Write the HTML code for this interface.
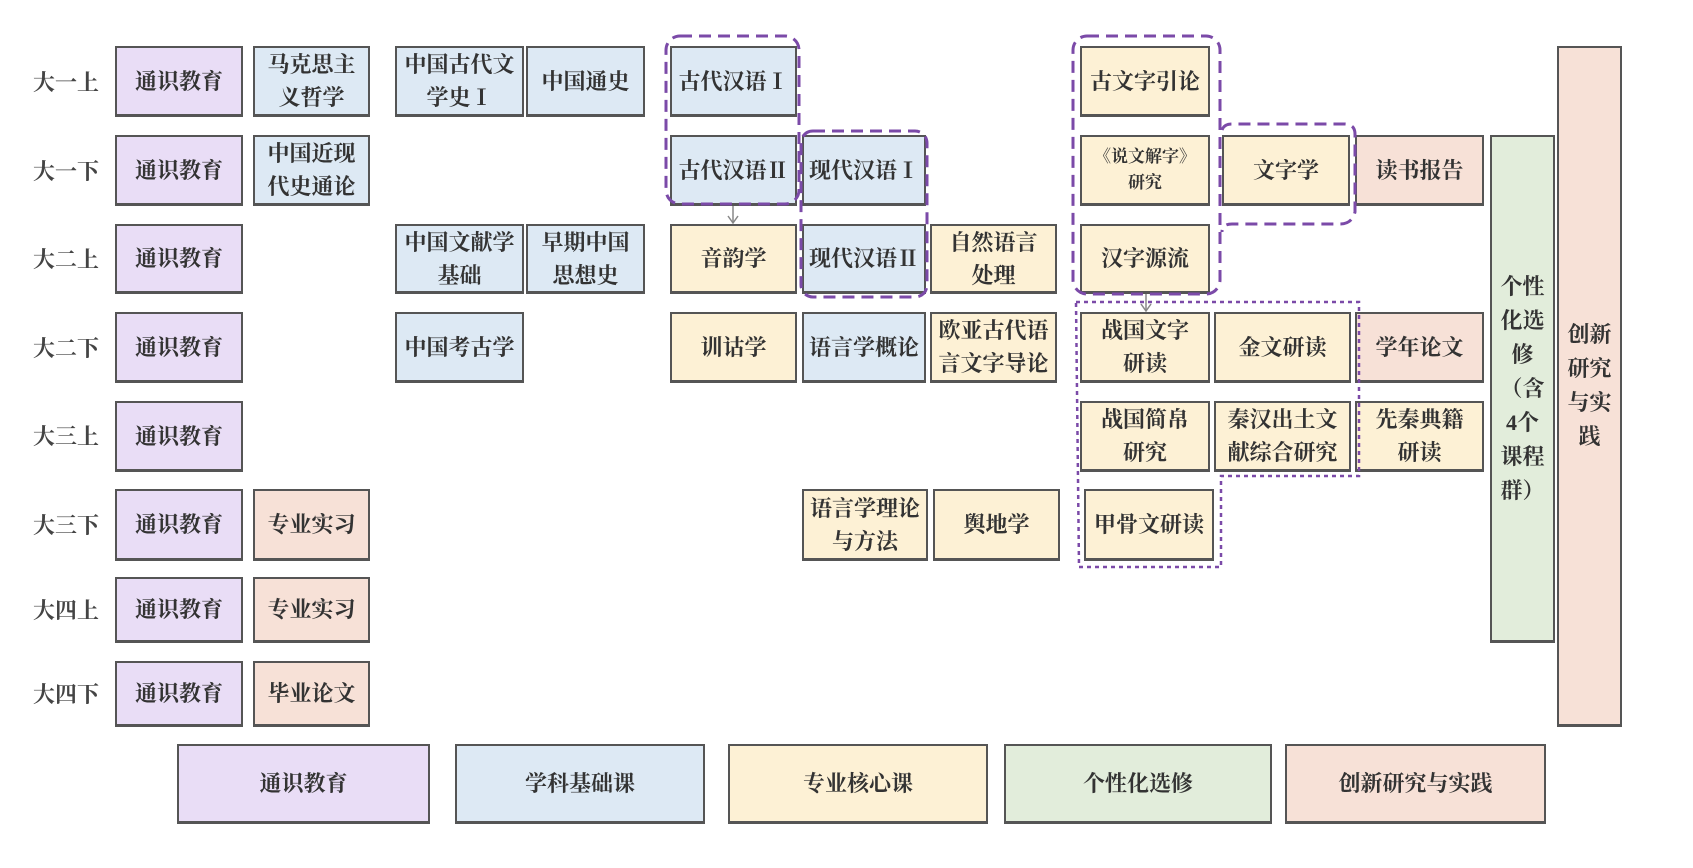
<!DOCTYPE html>
<html><head><meta charset="utf-8"><style>
body{margin:0;width:1693px;height:868px;background:#fff;position:relative;overflow:hidden;font-family:"Liberation Serif","Noto Serif CJK SC",serif;}
.b{position:absolute;box-sizing:border-box;border:2px solid #555;border-bottom-width:3px;display:flex;align-items:center;justify-content:center;text-align:center;font-size:22px;line-height:33px;color:#333;font-weight:bold;}
.p{background:#e9ddf6}.u{background:#dde9f4}.y{background:#fdf1d5}.g{background:#e2eddb}.k{background:#f7e1d7}
.l{position:absolute;left:28px;width:76px;font-size:22px;color:#444;text-align:center;font-weight:bold;}
svg{position:absolute;left:0;top:0}
</style></head><body>
<div class="l" style="top:66px">大一上</div>
<div class="l" style="top:155px">大一下</div>
<div class="l" style="top:243px">大二上</div>
<div class="l" style="top:332px">大二下</div>
<div class="l" style="top:420px">大三上</div>
<div class="l" style="top:509px">大三下</div>
<div class="l" style="top:594px">大四上</div>
<div class="l" style="top:678px">大四下</div>

<div class="b p" style="left:115px;top:46px;width:128px;height:71px">通识教育</div>
<div class="b p" style="left:115px;top:135px;width:128px;height:71px">通识教育</div>
<div class="b p" style="left:115px;top:224px;width:128px;height:70px">通识教育</div>
<div class="b p" style="left:115px;top:312px;width:128px;height:71px">通识教育</div>
<div class="b p" style="left:115px;top:401px;width:128px;height:71px">通识教育</div>
<div class="b p" style="left:115px;top:489px;width:128px;height:72px">通识教育</div>
<div class="b p" style="left:115px;top:577px;width:128px;height:66px">通识教育</div>
<div class="b p" style="left:115px;top:661px;width:128px;height:66px">通识教育</div>

<div class="b u" style="left:253px;top:46px;width:117px;height:71px">马克思主<br>义哲学</div>
<div class="b u" style="left:253px;top:135px;width:117px;height:71px">中国近现<br>代史通论</div>
<div class="b k" style="left:253px;top:489px;width:117px;height:72px">专业实习</div>
<div class="b k" style="left:253px;top:577px;width:117px;height:66px">专业实习</div>
<div class="b k" style="left:253px;top:661px;width:117px;height:66px">毕业论文</div>

<div class="b u" style="left:395px;top:46px;width:129px;height:71px">中国古代文<br>学史Ⅰ</div>
<div class="b u" style="left:526px;top:46px;width:119px;height:71px">中国通史</div>
<div class="b u" style="left:395px;top:224px;width:129px;height:70px">中国文献学<br>基础</div>
<div class="b u" style="left:526px;top:224px;width:119px;height:70px">早期中国<br>思想史</div>
<div class="b u" style="left:395px;top:312px;width:129px;height:71px">中国考古学</div>

<div class="b u" style="left:670px;top:46px;width:127px;height:71px">古代汉语Ⅰ</div>
<div class="b u" style="left:670px;top:135px;width:127px;height:71px">古代汉语Ⅱ</div>
<div class="b y" style="left:670px;top:224px;width:127px;height:70px">音韵学</div>
<div class="b y" style="left:670px;top:312px;width:127px;height:71px">训诂学</div>

<div class="b u" style="left:802px;top:135px;width:124px;height:71px">现代汉语Ⅰ</div>
<div class="b u" style="left:802px;top:224px;width:124px;height:70px">现代汉语Ⅱ</div>
<div class="b u" style="left:802px;top:312px;width:124px;height:71px">语言学概论</div>
<div class="b y" style="left:802px;top:489px;width:126px;height:72px">语言学理论<br>与方法</div>

<div class="b y" style="left:930px;top:224px;width:127px;height:70px">自然语言<br>处理</div>
<div class="b y" style="left:930px;top:312px;width:127px;height:71px">欧亚古代语<br>言文字导论</div>
<div class="b y" style="left:933px;top:489px;width:127px;height:72px">舆地学</div>

<div class="b y" style="left:1080px;top:46px;width:130px;height:71px">古文字引论</div>
<div class="b y" style="left:1080px;top:135px;width:130px;height:71px;font-size:17px;line-height:26px">《说文解字》<br>研究</div>
<div class="b y" style="left:1080px;top:224px;width:130px;height:70px">汉字源流</div>
<div class="b y" style="left:1080px;top:312px;width:130px;height:71px">战国文字<br>研读</div>
<div class="b y" style="left:1080px;top:401px;width:130px;height:71px">战国简帛<br>研究</div>
<div class="b y" style="left:1084px;top:489px;width:130px;height:72px">甲骨文研读</div>

<div class="b y" style="left:1222px;top:135px;width:128px;height:71px">文字学</div>
<div class="b y" style="left:1214px;top:312px;width:137px;height:71px">金文研读</div>
<div class="b y" style="left:1214px;top:401px;width:137px;height:71px">秦汉出土文<br>献综合研究</div>

<div class="b k" style="left:1355px;top:135px;width:129px;height:71px">读书报告</div>
<div class="b k" style="left:1355px;top:312px;width:129px;height:71px">学年论文</div>
<div class="b y" style="left:1355px;top:401px;width:129px;height:71px">先秦典籍<br>研读</div>

<div class="b g" style="left:1490px;top:135px;width:65px;height:508px;line-height:34px">个性<br>化选<br>修<br>（含<br>4个<br>课程<br>群）</div>
<div class="b k" style="left:1557px;top:46px;width:65px;height:681px;line-height:34px">创新<br>研究<br>与实<br>践</div>

<div class="b p" style="left:177px;top:744px;width:253px;height:80px">通识教育</div>
<div class="b u" style="left:455px;top:744px;width:250px;height:80px">学科基础课</div>
<div class="b y" style="left:728px;top:744px;width:260px;height:80px">专业核心课</div>
<div class="b g" style="left:1004px;top:744px;width:268px;height:80px">个性化选修</div>
<div class="b k" style="left:1285px;top:744px;width:261px;height:80px">创新研究与实践</div>

<svg width="1693" height="868">
<g fill="none" stroke="#7b4aa8" stroke-width="3" stroke-dasharray="12,7">
<rect x="666" y="36" width="133" height="168" rx="14"/>
<rect x="801" y="131" width="126" height="166" rx="12"/>
<rect x="1073" y="36" width="147" height="258" rx="14"/>
<path d="M1222 130 Q1224 124 1232 124 L1344 124 Q1355 124 1355 134 L1355 212 Q1352 224 1340 224 L1232 224 Q1222 224 1222 232"/>
</g>
<path d="M1076 302 L1359 302 L1359 476 L1221 476 L1221 567 L1079 567 Z" fill="none" stroke="#7b4aa8" stroke-width="2.5" stroke-dasharray="4,4"/>
<g stroke="#888" stroke-width="1.5" fill="none">
<line x1="733" y1="206" x2="733" y2="223"/><path d="M728 216 L733 223 L738 216"/>
<line x1="1146" y1="294" x2="1146" y2="311"/><path d="M1141 304 L1146 311 L1151 304"/>
</g>
</svg>
</body></html>
